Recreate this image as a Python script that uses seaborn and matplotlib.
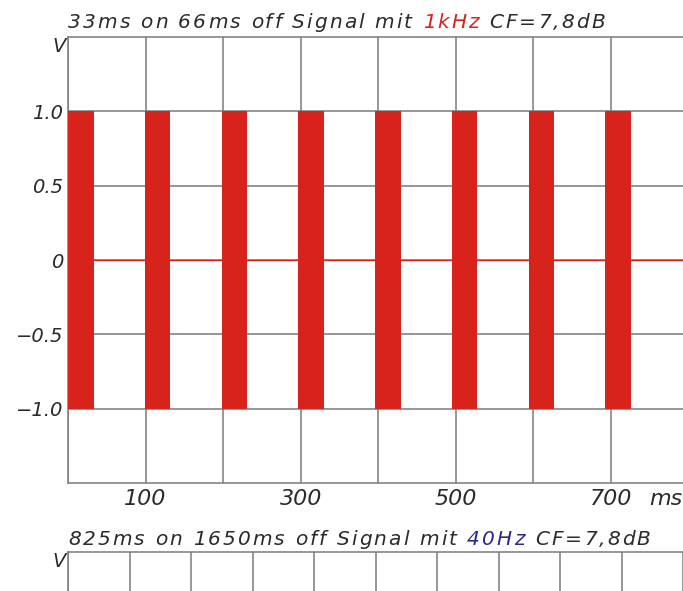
import matplotlib
matplotlib.use("Agg")
import matplotlib.pyplot as plt
import seaborn as sns
import pandas as pd

# ---- data ----
burst_start_ms = [0, 99, 198, 297, 396, 495, 594, 693]
burst_len_ms = 33
burst_amp = 1.0
baseline_t = [0, 800]
baseline_v = [0, 0]
y_ticks = [1.0, 0.5, 0, -0.5, -1.0]
y_ticklabels = ["1.0", "0.5", "0", "\u22120.5", "\u22121.0"]
x_ticks = [0, 100, 200, 300, 400, 500, 600, 700]
x_ticklabels = ["", "100", "", "300", "", "500", "", "700"]
x2_ticks = [0, 250, 500, 750, 1000, 1250, 1500, 1750, 2000, 2250, 2500]
title1 = ["33ms on 66ms off Signal mit ", "1kHz", " CF=7,8dB"]
title2 = ["825ms on 1650ms off Signal mit ", "40Hz", " CF=7,8dB"]

sns.set_style("white")
plt.rcParams['font.family'] = ['DejaVu Sans']

RED = "#d8221c"
BLUE = "#2b2886"
TXT = "#2a2a2a"
GRID = "#7a7a7a"
FS = 14.5
FSX = 16

fig = plt.figure(figsize=(6.83, 5.91), dpi=100)
W, H = 683, 591

def axpos(l, t, r, b):
    return [l / W, 1 - b / H, (r - l) / W, (b - t) / H]

ax = fig.add_axes(axpos(68, 37, 683, 483))
ax.set_xlim(0, 793)
ax.set_ylim(-1.5, 1.5)

df = pd.DataFrame({"t": baseline_t, "v": baseline_v})
sns.lineplot(data=df, x="t", y="v", ax=ax, color=RED, lw=1.0, zorder=3)
ax.bar(burst_start_ms, 2 * burst_amp, bottom=-burst_amp, width=burst_len_ms,
       align="edge", color=RED, edgecolor="none", zorder=4)

ax.set_xlabel("")
ax.set_ylabel("")
ax.set_xticks(x_ticks)
ax.set_xticklabels(x_ticklabels, fontstyle="italic", fontsize=FSX, color=TXT)
ax.set_yticks(y_ticks)
ax.set_yticklabels(y_ticklabels, fontstyle="italic", fontsize=14, color=TXT)
ax.grid(True, color=GRID, lw=1.1)
ax.tick_params(axis="y", length=0, pad=3.5)
ax.tick_params(axis="x", length=0, pad=4)
for s in ["left", "bottom", "top"]:
    ax.spines[s].set_color(GRID)
    ax.spines[s].set_linewidth(1.1)
ax.spines["right"].set_visible(False)
ax.text(-0.003, 1.0, "V", transform=ax.transAxes, ha="right", va="top",
        fontsize=14, style="italic", color=TXT)
ax.annotate("ms", xy=(750, 0), xycoords=ax.get_xaxis_transform(),
            xytext=(0, -4), textcoords="offset points", ha="left", va="top",
            fontsize=FSX, style="italic", color=TXT, annotation_clip=False)

SP = 1.5  # extra letter spacing in points

def chain_title(parts, colors, x, y):
    chars = []
    for p, c in zip(parts, colors):
        for ch in p:
            chars.append((ch, c))
    first = fig.text(x / W, 1 - y / H, chars[0][0], ha="left", va="baseline",
                     fontsize=FS, style="italic", color=chars[0][1])
    last = first
    for ch, c in chars[1:]:
        last = ax.annotate(
            ch, xy=(1, 0), xycoords=last, xytext=(SP, 0),
            textcoords="offset points", ha="left", va="bottom",
            fontsize=FS, style="italic", color=c, annotation_clip=False)
    return first

chain_title(title1, [TXT, RED, TXT], 68, 28)

ax2 = fig.add_axes(axpos(68, 552, 683, 900))
ax2.set_xlim(0, 2476)
ax2.set_ylim(-1.5, 1.5)
ax2.set_xticks(x2_ticks)
ax2.set_yticks([])
ax2.set_xticklabels([])
ax2.grid(True, axis="x", color=GRID, lw=1.1)
ax2.tick_params(length=0)
for s in ["left", "top"]:
    ax2.spines[s].set_color(GRID)
    ax2.spines[s].set_linewidth(1.1)
ax2.spines["right"].set_visible(False)
ax2.spines["bottom"].set_visible(False)
ax2.text(-0.003, 1.0, "V", transform=ax2.transAxes, ha="right", va="top",
         fontsize=14, style="italic", color=TXT)

chain_title(title2, [TXT, BLUE, TXT], 68, 545)

fig.savefig("out.png", dpi=100)
